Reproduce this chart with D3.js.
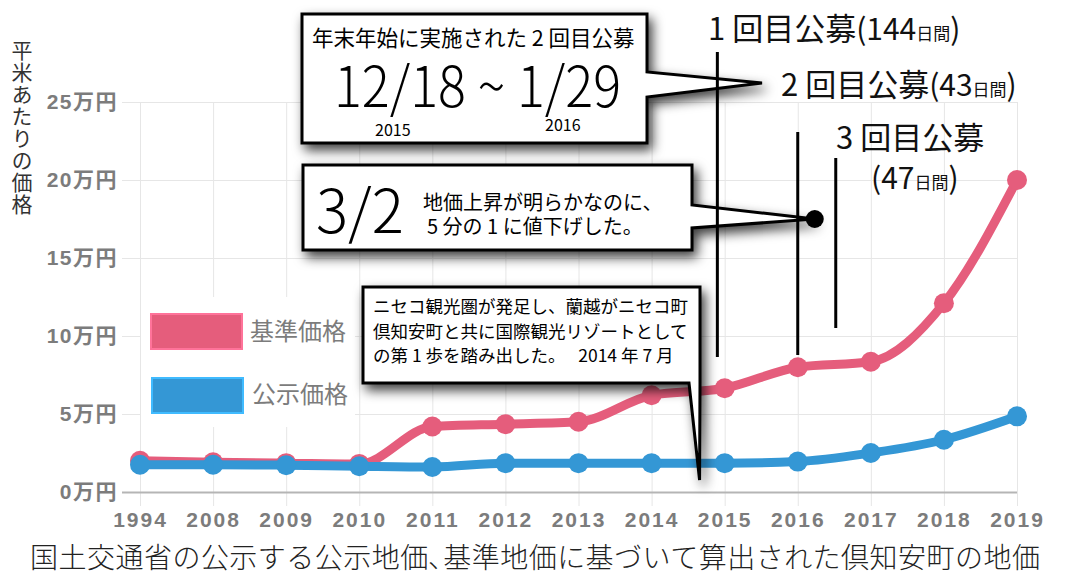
<!DOCTYPE html>
<html lang="ja">
<head>
<meta charset="utf-8">
<title>倶知安町の地価</title>
<script src="https://cdn.jsdelivr.net/npm/d3@7"></script>
<style>
  body { margin: 0; background: #fff; }
  svg { display: block; }
  .jp { font-family: "Noto Sans CJK JP", "Noto Sans", sans-serif; }
  .tick text { font-family: "Liberation Sans", "Noto Sans CJK JP", sans-serif; font-weight: bold; fill: #7c7c7c; }
</style>
</head>
<body>
<div class="viz"></div>
<script>
// --- data ---
const years = ["1994","2008","2009","2010","2011","2012","2013","2014","2015","2016","2017","2018","2019"];
const kijun = [2.0, 1.9, 1.85, 1.8, 4.2, 4.35, 4.5, 6.2, 6.65, 8.0, 8.35, 12.1, 20.0];   // 基準価格 (万円)
const koji  = [1.75, 1.75, 1.72, 1.65, 1.6, 1.85, 1.85, 1.85, 1.85, 1.95, 2.5, 3.35, 4.85]; // 公示価格 (万円)
const yTicks = [0, 5, 10, 15, 20, 25];
const seriesNames = ["基準価格", "公示価格"];
const colors = ["#e55d7c", "#3497d5"];

const width = 1067, height = 582;
const margin = { top: 102, right: 50, bottom: 90, left: 140 };

const svg = d3.select(".viz").append("svg")
  .attr("width", width).attr("height", height);

const defs = svg.append("defs");
const f = defs.append("filter").attr("id", "shadow")
  .attr("x", "-20%").attr("y", "-20%").attr("width", "150%").attr("height", "160%");
f.append("feDropShadow").attr("dx", 4).attr("dy", 6).attr("stdDeviation", 6)
  .attr("flood-color", "#000").attr("flood-opacity", 0.75);

const x = d3.scaleLinear().domain([0, years.length - 1]).range([margin.left, width - margin.right]);
const y = d3.scaleLinear().domain([0, 25]).range([height - margin.bottom, margin.top]);

// grid
svg.append("g")
  .attr("transform", `translate(0,${height - margin.bottom})`)
  .call(d3.axisBottom(x).tickValues(d3.range(years.length)).tickFormat(i => years[i])
    .tickSize(-(height - margin.top - margin.bottom)).tickSizeOuter(0).tickPadding(20))
  .call(g => g.select(".domain").remove())
  .call(g => g.selectAll(".tick line").attr("stroke", "#e6e6e6").attr("y1", 14))
  .call(g => g.selectAll(".tick text").attr("font-size", 21).attr("letter-spacing", 2));

svg.append("g")
  .attr("transform", `translate(${margin.left},0)`)
  .call(d3.axisLeft(y).tickValues(yTicks).tickFormat(d => d + "万円")
    .tickSize(-(width - margin.left - margin.right)).tickSizeOuter(0).tickPadding(22))
  .call(g => g.select(".domain").remove())
  .call(g => g.selectAll(".tick line").attr("stroke", d => d === 0 ? "#b5b5b5" : "#e6e6e6")
    .attr("stroke-width", d => d === 0 ? 2 : 1).attr("x1", -18))
  .call(g => g.selectAll(".tick text").attr("font-size", 21).attr("letter-spacing", 1.5));

// lines
const line = d3.line().x((d, i) => x(i)).y(d => y(d)).curve(d3.curveMonotoneX);
[kijun, koji].forEach((s, k) => {
  svg.append("path").datum(s).attr("d", line)
    .attr("fill", "none").attr("stroke", colors[k]).attr("stroke-width", 9);
  svg.append("g").selectAll("circle").data(s).join("circle")
    .attr("cx", (d, i) => x(i)).attr("cy", d => y(d)).attr("r", 10)
    .attr("fill", colors[k]);
});

// legend
const lg = svg.append("g");
lg.append("rect").attr("x", 141).attr("y", 297).attr("width", 214).attr("height", 130).attr("fill", "#fff");
seriesNames.forEach((n, k) => {
  lg.append("rect").attr("x", 151 + k).attr("y", 314 + k * 64).attr("width", 91).attr("height", 35)
    .attr("fill", colors[k]).attr("stroke", d3.color(colors[k]).brighter(0.6)).attr("stroke-width", 2);
  lg.append("text").attr("class", "jp").attr("x", 250 + k * 2).attr("y", 340 + k * 63)
    .attr("font-size", 24).attr("fill", "#7c7c7c").text(n);
});

// y title
svg.append("text").attr("class", "jp")
  .attr("x", 22).attr("y", 40)
  .attr("font-size", 21).attr("letter-spacing", 1).attr("fill", "#333")
  .style("writing-mode", "vertical-rl")
  .text("平米あたりの価格");

// callouts
const callouts = svg.append("g").attr("class", "jp");
function bubble(pts) {
  callouts.append("path").attr("d", "M" + pts.join("L") + "Z")
    .attr("fill", "#fff").attr("stroke", "#000").attr("stroke-width", 3)
    .attr("stroke-linejoin", "miter").attr("filter", "url(#shadow)");
}

// 2回目公募 box
bubble([[302,14],[647,14],[647,72],[762,83],[647,97],[647,143],[302,143]]);
callouts.append("text").attr("x", 312).attr("y", 46).attr("font-size", 21.5).text("年末年始に実施された 2 回目公募");
callouts.append("text").attr("x", 334).attr("y", 107).attr("font-size", 56).attr("font-weight", 300)
  .attr("textLength", 287).attr("lengthAdjust", "spacingAndGlyphs").text("12/18 ~ 1/29");
callouts.append("text").attr("x", 375).attr("y", 136).attr("font-size", 16).text("2015");
callouts.append("text").attr("x", 545).attr("y", 131).attr("font-size", 16).text("2016");

// 3/2 box
const tip = [x(9) + 17, y(17.5)];
bubble([[303,165],[692,165],[692,205],tip,[692,228],[692,250],[303,250]]);
callouts.append("text").attr("x", 316).attr("y", 233).attr("font-size", 60).attr("font-weight", 300).text("3/2");
callouts.append("text").attr("x", 423).attr("y", 210).attr("font-size", 20).text("地価上昇が明らかなのに、");
callouts.append("text").attr("x", 427).attr("y", 234).attr("font-size", 20).text("5 分の 1 に値下げした。");

// Niseko box
bubble([[363,287],[700,287],[700,383],[x(7) + 48,480],[689,383],[363,383]]);
["ニセコ観光圏が発足し、蘭越がニセコ町", "倶知安町と共に国際観光リゾートとして", "の第 1 歩を踏み出した。　 2014 年 7 月"]
  .forEach((t, i) => callouts.append("text").attr("x", 373).attr("y", 313 + i * 24.5)
    .attr("font-size", 17.5).text(t));

// 公募 period markers
const marks = [
  { pos: 7.9, y1: 52, y2: 357 },
  { pos: 9, y1: 132, y2: 355 },
  { pos: 9.52, y1: 158, y2: 328 }
];
svg.append("g").selectAll("line").data(marks).join("line")
  .attr("x1", d => x(d.pos)).attr("x2", d => x(d.pos))
  .attr("y1", d => d.y1).attr("y2", d => d.y2)
  .attr("stroke", "#000").attr("stroke-width", 3);
svg.append("circle").attr("cx", tip[0]).attr("cy", tip[1]).attr("r", 9).attr("fill", "#000");

const lab = svg.append("g").attr("class", "jp").attr("fill", "#111");
function label(xx, yy, parts) {
  const t = lab.append("text").attr("x", xx).attr("y", yy);
  parts.forEach(p => t.append("tspan").attr("font-size", p[1]).text(p[0]));
}
label(708, 40, [["1 回目公募", 31], ["(144", 30], ["日間", 17], [")", 30]]);
label(781, 96, [["2 回目公募", 31], ["(43", 30], ["日間", 17], [")", 30]]);
label(836, 149, [["3 回目公募", 31]]);
label(871, 189, [["(47", 30], ["日間", 17], [")", 30]]);

// bottom title
svg.append("text").attr("class", "jp")
  .attr("x", 30).attr("y", 568).attr("font-size", 28).attr("font-weight", 300)
  .attr("fill", "#222").attr("textLength", 1010).attr("lengthAdjust", "spacing")
  .text("国土交通省の公示する公示地価､基準地価に基づいて算出された倶知安町の地価");
</script>
</body>
</html>
